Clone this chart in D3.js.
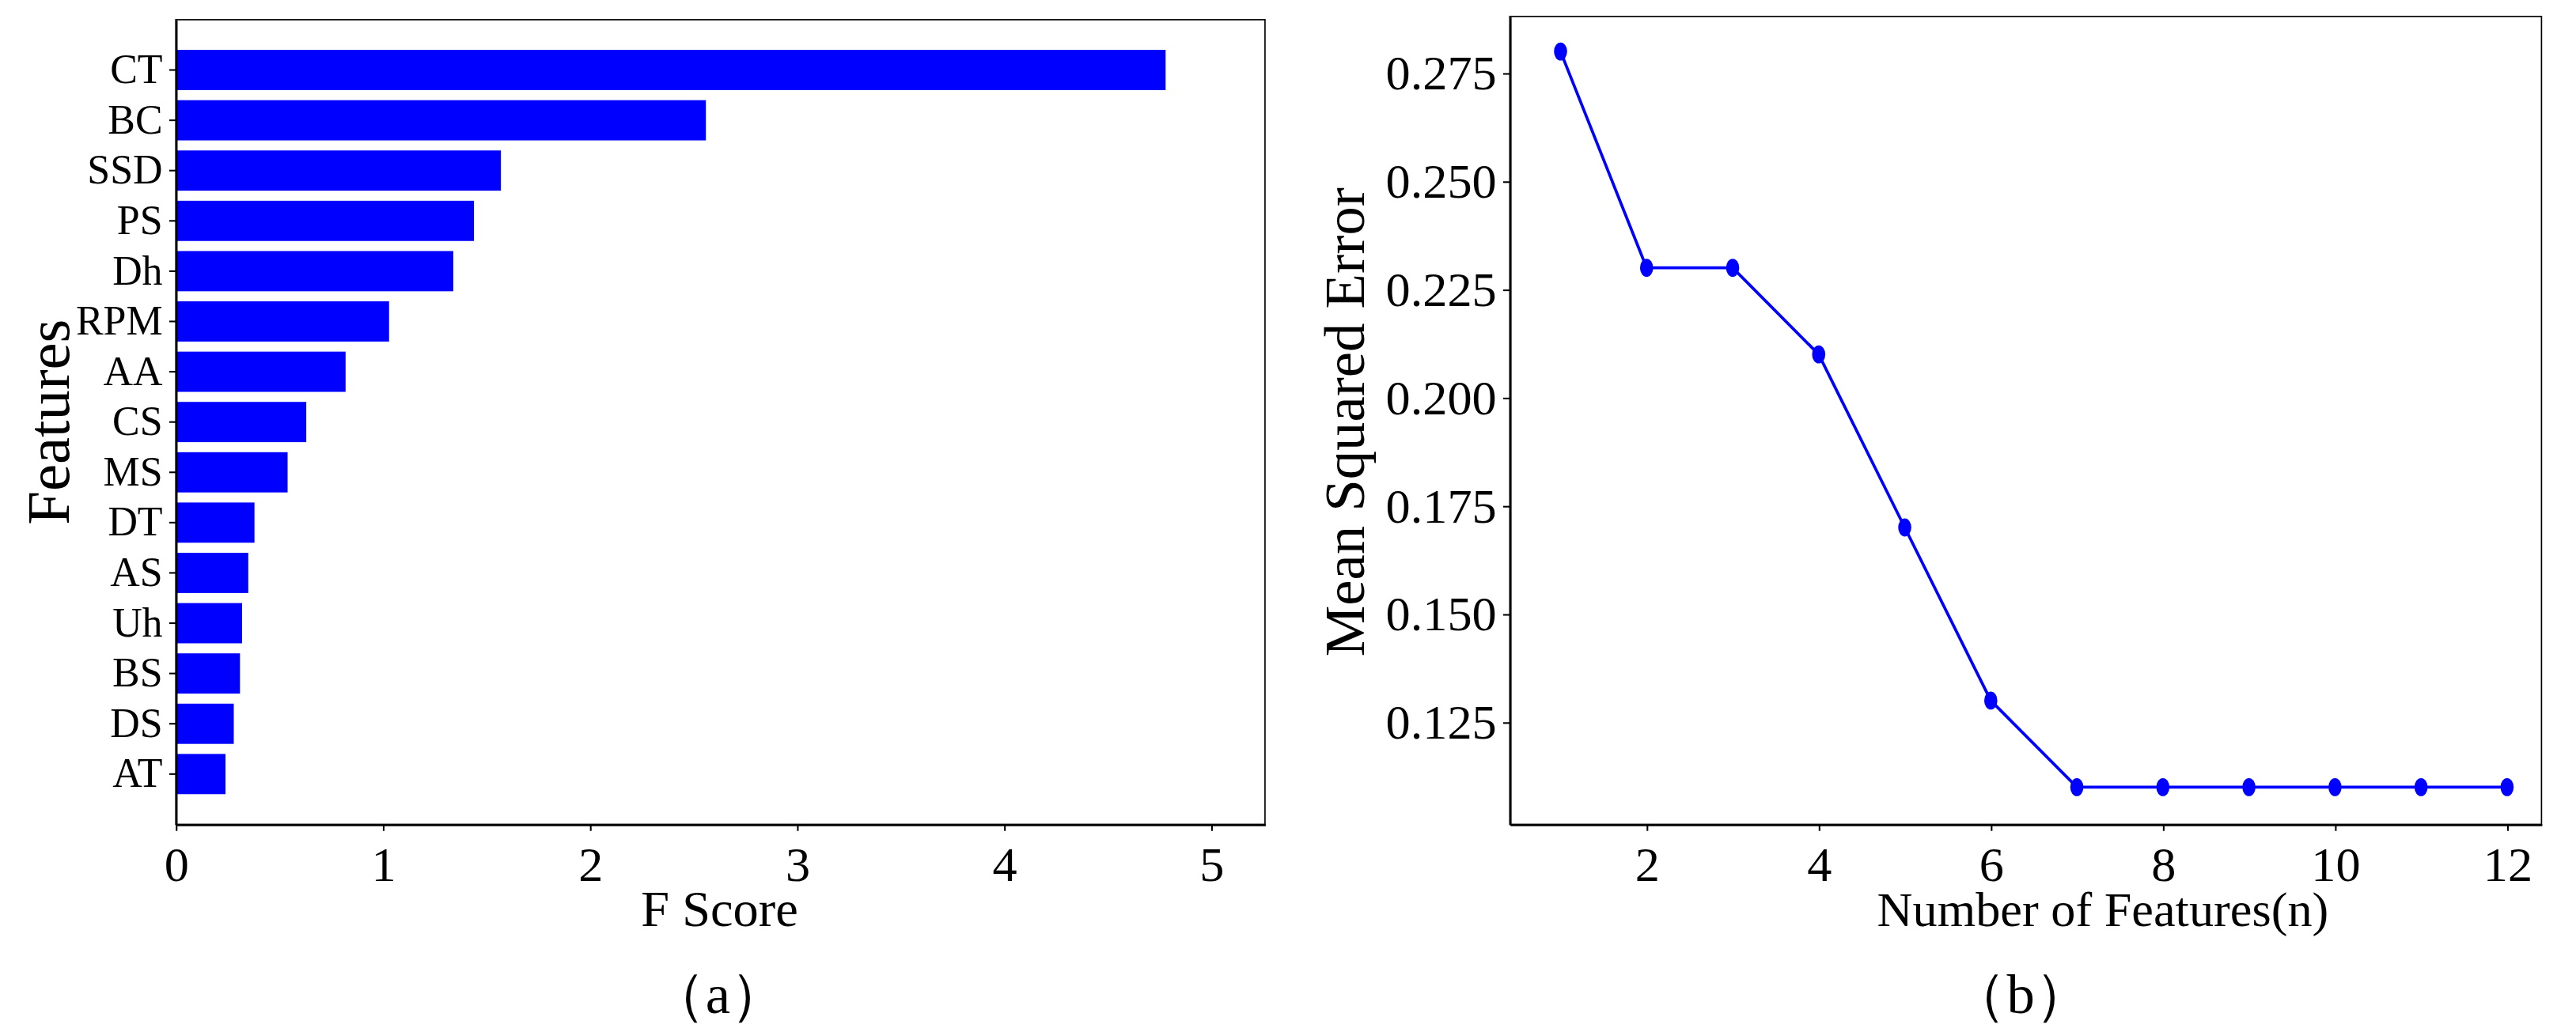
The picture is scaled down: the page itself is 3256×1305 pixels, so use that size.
<!DOCTYPE html>
<html><head><meta charset="utf-8">
<script src="https://cdn.jsdelivr.net/npm/d3@7"></script>
<style>body{margin:0;background:#fff}text{font-family:"Liberation Serif","Times New Roman",serif;fill:#000}</style>
</head><body><svg id="c" width="3256" height="1305"></svg>
<script>
const features = ["CT","BC","SSD","PS","Dh","RPM","AA","CS","MS","DT","AS","Uh","BS","DS","AT"];
const fScores = [4.78,2.56,1.57,1.44,1.34,1.03,0.82,0.63,0.54,0.38,0.35,0.32,0.31,0.28,0.24];
const xTicksA = [0,1,2,3,4,5];
const nFeatures = [1,2,3,4,5,6,7,8,9,10,11,12];
const mse = [0.28,0.23,0.23,0.21,0.17,0.13,0.11,0.11,0.11,0.11,0.11,0.11];
const xTicksB = [2,4,6,8,10,12];
const yTicksB = [0.125,0.150,0.175,0.200,0.225,0.250,0.275];

const S = 3256/1568;
const svg = d3.select("#c").append("g").attr("transform",`scale(${S})`);
const blue = "#0000ff";

// Panel (a)
const A = {l:107,r:770,t:12,b:502};
const xa = d3.scaleLinear().domain([0,5.26]).range([A.l,A.r]);
const ya = d3.scaleBand().domain(features).range([A.t,A.b]).paddingInner(0.2).paddingOuter(0.6);
const ga = svg.append("g");
ga.selectAll("rect.bar").data(features).join("rect")
  .attr("x",xa(0)).attr("y",d=>ya(d)).attr("height",ya.bandwidth())
  .attr("width",(d,i)=>xa(fScores[i])-xa(0)).attr("fill",blue);
ga.append("rect").attr("x",A.l).attr("y",A.t).attr("width",A.r-A.l).attr("height",A.b-A.t)
  .attr("fill","none").attr("stroke","#000").attr("stroke-width",0.8);
const axA = ga.append("g").attr("transform",`translate(0,${A.b})`)
  .call(d3.axisBottom(xa).tickValues(xTicksA).tickFormat(d3.format("d")).tickSize(4).tickSizeOuter(0).tickPadding(5));
axA.selectAll("text").attr("font-size",30).style("font-family","Liberation Serif").attr("dy","0.85em");
const ayA = ga.append("g").attr("transform",`translate(${A.l},0)`)
  .call(d3.axisLeft(ya).tickSize(4).tickSizeOuter(0).tickPadding(4));
ayA.selectAll("text").attr("font-size",25).style("font-family","Liberation Serif");
[axA,ayA].forEach(a=>{a.select(".domain").attr("stroke","#000").attr("stroke-width",1.2);a.selectAll("line").attr("stroke","#000")});
ga.append("text").attr("x",438).attr("y",564).attr("text-anchor","middle").attr("font-size",31).text("F Score");
ga.append("text").attr("transform","translate(42,257) rotate(-90)").attr("text-anchor","middle").attr("font-size",37).text("Features");
ga.append("text").attr("x",437).attr("y",617).attr("text-anchor","middle").attr("font-size",34).text("（a）");

// Panel (b)
const B = {l:919,r:1547,t:10,b:502};
const xb = d3.scaleLinear().domain([0.41,12.4]).range([B.l,B.r]);
const yb = d3.scaleLinear().domain([0.1014,0.2881]).range([B.b,B.t]);
const gb = svg.append("g");
gb.append("rect").attr("x",B.l).attr("y",B.t).attr("width",B.r-B.l).attr("height",B.b-B.t)
  .attr("fill","none").attr("stroke","#000").attr("stroke-width",0.8);
const axB = gb.append("g").attr("transform",`translate(0,${B.b})`)
  .call(d3.axisBottom(xb).tickValues(xTicksB).tickSize(4).tickSizeOuter(0).tickPadding(5));
axB.selectAll("text").attr("font-size",30).style("font-family","Liberation Serif").attr("dy","0.85em");
const ayB = gb.append("g").attr("transform",`translate(${B.l},0)`)
  .call(d3.axisLeft(yb).tickValues(yTicksB).tickFormat(d3.format(".3f")).tickSize(4).tickSizeOuter(0).tickPadding(4));
ayB.selectAll("text").attr("font-size",30).style("font-family","Liberation Serif");
[axB,ayB].forEach(a=>{a.select(".domain").attr("stroke","#000").attr("stroke-width",1.2);a.selectAll("line").attr("stroke","#000")});
gb.append("path").datum(nFeatures.map((n,i)=>[n,mse[i]]))
  .attr("d",d3.line().x(d=>xb(d[0])).y(d=>yb(d[1])))
  .attr("fill","none").attr("stroke",blue).attr("stroke-width",1.8);
gb.selectAll("ellipse").data(nFeatures).join("ellipse")
  .attr("cx",d=>xb(d)).attr("cy",(d,i)=>yb(mse[i])).attr("rx",4).attr("ry",5.5).attr("fill",blue);
gb.append("text").attr("x",1280).attr("y",564).attr("text-anchor","middle").attr("font-size",30).text("Number of Features(n)");
gb.append("text").attr("transform","translate(830,257) rotate(-90)").attr("text-anchor","middle").attr("font-size",35).text("Mean Squared Error");
gb.append("text").attr("x",1230).attr("y",617).attr("text-anchor","middle").attr("font-size",34).text("（b）");
</script></body></html>
